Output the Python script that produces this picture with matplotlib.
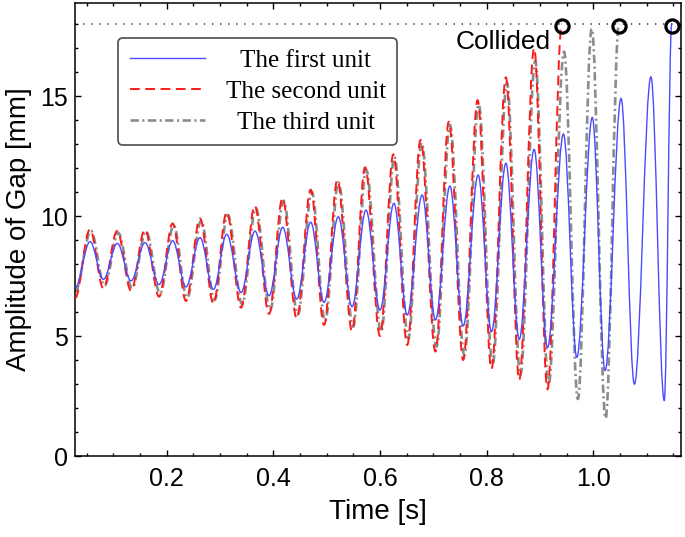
import matplotlib
matplotlib.use("Agg")
import matplotlib.pyplot as plt
from matplotlib.path import Path
from matplotlib.patches import PathPatch
from matplotlib.lines import Line2D
from matplotlib.ticker import MultipleLocator

# ---------------- data (extrema) ----------------
t_first = [0.028, 0.0562, 0.0812, 0.1074, 0.1331, 0.1593, 0.1856, 0.2112, 0.2362, 0.2625,
           0.2875, 0.3125, 0.3394, 0.3656, 0.3919, 0.4175, 0.4438, 0.4700, 0.4950, 0.5218,
           0.5475, 0.5737, 0.6000, 0.6260, 0.6510, 0.6790, 0.7040, 0.7310, 0.7560, 0.7840,
           0.8090, 0.8360, 0.8610, 0.8890, 0.9140, 0.9440, 0.9690, 0.9980, 1.0220, 1.0520,
           1.0770, 1.1080, 1.1330, 1.1470]
gap_first = [7.00, 8.93, 7.36, 8.86, 7.30, 8.89, 7.15, 8.97, 7.05, 9.10,
             6.94, 9.24, 6.82, 9.375, 6.68, 9.53, 6.54, 9.74, 6.40, 9.97,
             6.22, 10.25, 6.08, 10.53, 5.875, 10.875, 5.67, 11.25, 5.42, 11.71,
             5.18, 12.20, 4.86, 12.78, 4.51, 13.42, 4.11, 14.11, 3.56, 14.90,
             2.99, 15.80, 2.31, 18.0]

t_second = [0.028, 0.056, 0.0812, 0.107, 0.1331, 0.159, 0.1856, 0.211, 0.2362, 0.2625,
            0.2875, 0.3125, 0.3394, 0.365, 0.3919, 0.417, 0.4438, 0.470, 0.495, 0.520,
            0.5475, 0.572, 0.600, 0.625, 0.651, 0.676, 0.704, 0.729, 0.756, 0.783,
            0.809, 0.836, 0.861, 0.889, 0.914, 0.941]
gap_second = [6.57, 9.44, 6.99, 9.375, 6.89, 9.44, 6.64, 9.69, 6.46, 9.90,
              6.36, 10.15, 6.18, 10.43, 5.92, 10.74, 5.74, 11.10, 5.46, 11.50,
              5.22, 12.03, 5.00, 12.57, 4.625, 13.17, 4.35, 13.93, 4.00, 14.83,
              3.625, 15.78, 3.17, 16.99, 2.78, 18.0]

t_third = [0.028, 0.058, 0.0832, 0.109, 0.1351, 0.161, 0.1876, 0.213, 0.2382, 0.2645,
           0.2895, 0.3145, 0.3414, 0.367, 0.3939, 0.419, 0.4458, 0.472, 0.497, 0.522,
           0.5495, 0.574, 0.602, 0.627, 0.653, 0.678, 0.706, 0.731, 0.758, 0.785,
           0.811, 0.838, 0.863, 0.891, 0.916, 0.945, 0.971, 0.997, 1.023, 1.048]
gap_third = [6.85, 9.38, 7.10, 9.30, 7.00, 9.36, 6.78, 9.60, 6.60, 9.80,
             6.50, 10.05, 6.33, 10.33, 6.08, 10.64, 5.90, 11.00, 5.63, 11.40,
             5.39, 11.92, 5.18, 12.45, 4.90, 13.05, 4.56, 13.80, 4.21, 14.65,
             3.82, 15.55, 3.375, 16.45, 2.96, 16.85, 2.375, 17.80, 1.57, 18.0]

collision_level = 18.0
collision_t = [0.941, 1.048, 1.147]
collision_marker_y = [17.9, 17.9, 17.9]

labels = ["The first unit", "The second unit", "The third unit"]

# ---------------- style ----------------
plt.rcParams["font.family"] = ["Liberation Sans", "DejaVu Sans"]
plt.rcParams["lines.scale_dashes"] = False

fig = plt.figure(figsize=(6.85, 5.37), dpi=100)
ax = fig.add_axes([75/685, 1 - 456/537, 606/685, 453.3/537])

def smooth_path(ts, vs, c=0.364):
    verts = [(ts[0], vs[0])]
    codes = [Path.MOVETO]
    for i in range(1, len(ts)):
        t0, v0, t1, v1 = ts[i-1], vs[i-1], ts[i], vs[i]
        dt = t1 - t0
        verts += [(t0 + c*dt, v0), (t1 - c*dt, v1), (t1, v1)]
        codes += [Path.CURVE4]*3
    return Path(verts, codes)

styles = [
    dict(color="#4a4aff", lw=1.0, ls="-", z=4),
    dict(color="#ff1a1a", lw=1.4, ls=(0, (7, 4)), z=3),
    dict(color="#8c8c8c", lw=1.9, ls=(0, (6, 2.5, 1.5, 2.5)), z=2),
]
series = [(t_first, gap_first), (t_second, gap_second), (t_third, gap_third)]

handles = []
for (ts, vs), st, lab in zip(series, styles, labels):
    ax.add_patch(PathPatch(smooth_path(ts, vs), facecolor="none", edgecolor=st["color"],
                           lw=st["lw"], linestyle=st["ls"], zorder=st["z"],
                           capstyle="butt", joinstyle="round"))
    handles.append(Line2D([], [], color=st["color"], lw=st["lw"], ls=st["ls"], label=lab))

ax.axhline(collision_level, color="#333333", lw=1.1, ls=(0, (1, 4.8)), zorder=1)
ax.plot(collision_t, collision_marker_y, ls="none", marker="o", ms=9.5,
        mfc="none", mec="black", mew=2.3, zorder=6, clip_on=False)
ax.text(0.9206, 17.25, "Collided", ha="right", va="center", fontsize=19, zorder=7)

ax.set_xlim(0.028, 1.1644)
ax.set_ylim(0, 18.89)
ax.xaxis.set_major_locator(MultipleLocator(0.2))
ax.xaxis.set_minor_locator(MultipleLocator(0.05))
ax.yaxis.set_major_locator(MultipleLocator(5))
ax.yaxis.set_minor_locator(MultipleLocator(1))
ax.xaxis.set_major_formatter(matplotlib.ticker.FuncFormatter(lambda v, p: f"{v:.1f}"))
ax.tick_params(which="both", direction="in", top=True, right=True, width=1.0, labelsize=18)
ax.tick_params(which="major", length=4.5, pad=8)
ax.tick_params(which="minor", length=2.4)
ax.tick_params(axis="y", which="major", pad=5)
for s in ax.spines.values():
    s.set_linewidth(1.1)

ax.set_xlabel("Time [s]", fontsize=20, labelpad=6)
ax.set_ylabel("Amplitude of Gap [mm]", fontsize=20, labelpad=6)

leg = ax.legend(handles=handles, loc="upper left", bbox_to_anchor=(0.0715, 0.9215),
                borderaxespad=0, prop={"family": ["Liberation Serif"], "size": 18},
                handlelength=3.0, handletextpad=0.85, borderpad=0.45, labelspacing=0.33,
                fancybox=True, framealpha=1, edgecolor="#4d4d4d")
leg.get_frame().set_linewidth(1.2)
leg.set_zorder(10)

# centre the legend texts in their column
fig.canvas.draw()
widths = [t.get_window_extent().width for t in leg.get_texts()]
wmax = max(widths)
for t, w in zip(leg.get_texts(), widths):
    t.set_position(((wmax - w) / 2, 0))

fig.savefig("out.png", dpi=100)
